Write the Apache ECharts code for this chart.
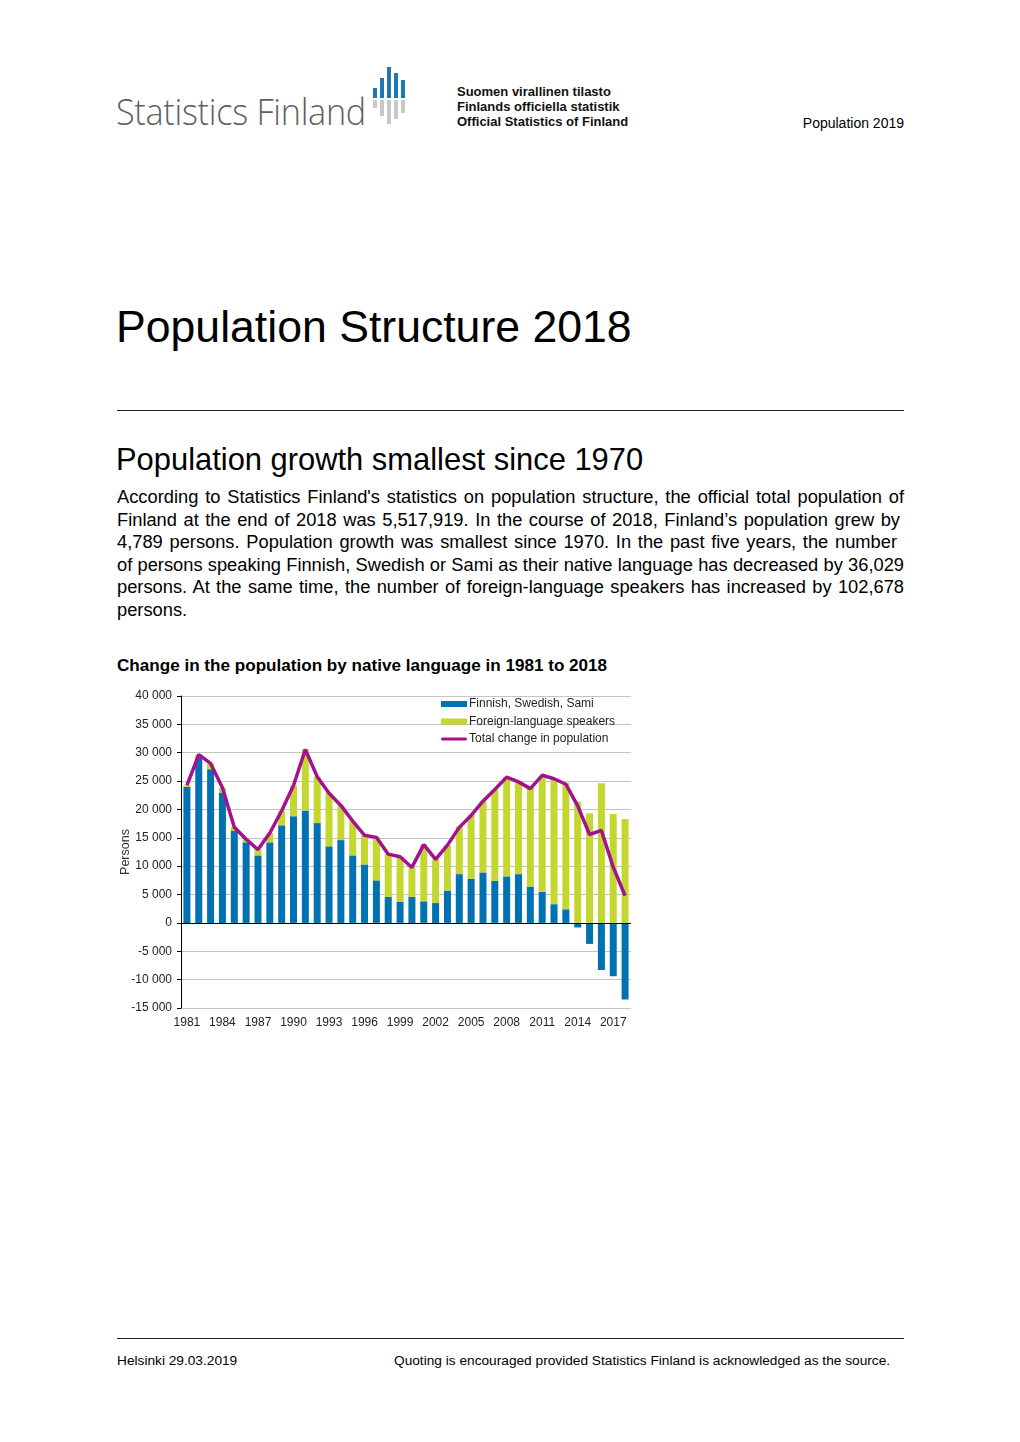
<!DOCTYPE html>
<html>
<head>
<meta charset="utf-8">
<script src="https://cdn.jsdelivr.net/npm/echarts@6/dist/echarts.min.js"></script>
<style>
  html, body { margin: 0; padding: 0; background: #fff; }
  body { width: 1020px; height: 1442px; position: relative; overflow: hidden; font-family: "Liberation Sans", Arial, sans-serif; color: #000; }
  .abs { position: absolute; white-space: nowrap; }
  .logo-text { left: 116px; top: 89px; font-family: "Open Sans", sans-serif; font-weight: 300; font-size: 36px; line-height: 46px; color: #5f5f5f; letter-spacing: -0.3px; transform: scaleX(0.95); transform-origin: 0 0; }
  .lb { position: absolute; width: 4px; }
  .blue { background: #1f78b4; }
  .grey { background: #c8c8c8; }
  .offic { left: 457px; font-family: "Liberation Sans", Arial, sans-serif; font-weight: 700; font-size: 13px; line-height: 15px; color: #111; }
  .pub { right: 116px; top: 114px; font-size: 14px; line-height: 18px; }
  .title { left: 116px; top: 300px; font-size: 44.6px; line-height: 54px; }
  .rule { position: absolute; left: 117px; width: 787px; height: 1px; background: #222; }
  .head { left: 116px; top: 440px; font-size: 30.9px; line-height: 40px; }
  .para { position: absolute; left: 117px; top: 486px; font-size: 18.3px; line-height: 22.6px; }
  .para div { white-space: nowrap; text-align: justify; text-align-last: justify; }
  .para div.last { text-align-last: left; }
  .ctitle { left: 117px; top: 656px; font-size: 17.1px; line-height: 20px; font-weight: bold; }
  .foot { top: 1352px; font-size: 13.7px; line-height: 18px; }
  #chart { position: absolute; left: 100px; top: 670px; width: 560px; height: 380px; }
</style>
</head>
<body>
<div class="abs logo-text">Statistics Finland</div>
<div class="lb blue" style="left:373px;top:88px;height:10px"></div>
<div class="lb blue" style="left:380px;top:78px;height:20px"></div>
<div class="lb blue" style="left:387px;top:67px;height:31px"></div>
<div class="lb blue" style="left:394px;top:73px;height:25px"></div>
<div class="lb blue" style="left:401px;top:80px;height:18px"></div>
<div class="lb grey" style="left:373px;top:100px;height:8px"></div>
<div class="lb grey" style="left:380px;top:100px;height:16px"></div>
<div class="lb grey" style="left:387px;top:100px;height:24px"></div>
<div class="lb grey" style="left:394px;top:100px;height:19px"></div>
<div class="lb grey" style="left:401px;top:100px;height:13px"></div>
<div class="abs offic" style="top:84px">Suomen virallinen tilasto</div>
<div class="abs offic" style="top:99px">Finlands officiella statistik</div>
<div class="abs offic" style="top:114px">Official Statistics of Finland</div>
<div class="abs pub">Population 2019</div>
<div class="abs title">Population Structure 2018</div>
<div class="rule" style="top:410px"></div>
<div class="abs head">Population growth smallest since 1970</div>
<div class="para">
  <div style="width:787px">According to Statistics Finland's statistics on population structure, the official total population of</div>
  <div style="width:783px">Finland at the end of 2018 was 5,517,919. In the course of 2018, Finland’s population grew by</div>
  <div style="width:780px">4,789 persons. Population growth was smallest since 1970. In the past five years, the number</div>
  <div style="width:787px">of persons speaking Finnish, Swedish or Sami as their native language has decreased by 36,029</div>
  <div style="width:787px">persons. At the same time, the number of foreign-language speakers has increased by 102,678</div>
  <div class="last" style="width:787px">persons.</div>
</div>
<div class="abs ctitle">Change in the population by native language in 1981 to 2018</div>
<div id="chart"></div>
<div class="rule" style="top:1338px"></div>
<div class="abs foot" style="left:117px">Helsinki 29.03.2019</div>
<div class="abs foot" style="left:394px">Quoting is encouraged provided Statistics Finland is acknowledged as the source.</div>

<script>
const years = ["1981","1982","1983","1984","1985","1986","1987","1988","1989","1990",
  "1991","1992","1993","1994","1995","1996","1997","1998","1999","2000",
  "2001","2002","2003","2004","2005","2006","2007","2008","2009","2010",
  "2011","2012","2013","2014","2015","2016","2017","2018"];
const finnishSwedishSami = [24000, 29100, 27100, 23000, 16200, 14200, 11900, 14200, 17200, 18800,
  19800, 17600, 13500, 14600, 11900, 10300, 7500, 4600, 3700, 4600,
  3800, 3500, 5700, 8600, 7800, 8900, 7400, 8200, 8600, 6400,
  5500, 3300, 2400, -800, -3700, -8300, -9400, -13500];
const foreignLanguage = [240, 550, 1000, 800, 660, 550, 1000, 1600, 2600, 5400,
  10800, 8200, 9400, 6100, 6000, 5100, 7600, 7500, 8000, 5200,
  10000, 7700, 8000, 8400, 11300, 12600, 16100, 17500, 16400, 17700,
  20300, 21900, 22300, 21400, 19300, 24600, 19200, 18300];
const totalChange = [24240, 29650, 28120, 23810, 16860, 14750, 12930, 15840, 19780, 24230,
  30570, 25780, 22870, 20710, 17950, 15440, 15080, 12120, 11660, 9780,
  13800, 11190, 13710, 16840, 18950, 21460, 23520, 25700, 24860, 23670,
  26020, 25410, 24440, 20640, 15590, 16300, 9840, 4790];
const seriesNames = ["Finnish, Swedish, Sami", "Foreign-language speakers", "Total change in population"];
const yAxisName = "Persons";

function fmt(v) {
  const s = String(Math.abs(v)).replace(/\B(?=(\d{3})+(?!\d))/g, " ");
  return (v < 0 ? "-" : "") + s;
}

const chart = echarts.init(document.getElementById("chart"), null, { renderer: "canvas" });
chart.setOption({
  animation: false,
  textStyle: { fontFamily: "Liberation Sans, Arial, sans-serif" },
  grid: { left: 81, right: 29, top: 26, bottom: 42, containLabel: false },
  legend: {
    left: 336, top: 23, orient: "vertical", itemGap: 5.5,
    itemWidth: 26, itemHeight: 6, symbolKeepAspect: true,
    textStyle: { fontSize: 12, color: "#222", padding: [0, 0, 0, -3] },
    data: [
      { name: seriesNames[0], icon: "rect" },
      { name: seriesNames[1], icon: "rect" },
      { name: seriesNames[2], icon: "path://M1.5,0H24.5A1.5,1.5,0,0,1,24.5,3H1.5A1.5,1.5,0,0,1,1.5,0Z" }
    ]
  },
  xAxis: {
    type: "category", data: years, boundaryGap: true,
    axisLine: { show: false, onZero: false },
    axisTick: { show: false },
    axisLabel: { interval: 2, fontSize: 12, color: "#222", margin: 9 }
  },
  yAxis: {
    type: "value", min: -15000, max: 40000, interval: 5000,
    name: yAxisName, nameLocation: "middle", nameGap: 49, nameRotate: 90,
    nameMoveOverlap: false,
    nameTextStyle: { fontSize: 12.5, color: "#333", padding: [0, 0, 0, 0] },
    axisLine: { show: true, lineStyle: { color: "#000", width: 1 } },
    axisTick: { show: true, length: 4, lineStyle: { color: "#000" } },
    axisLabel: { fontSize: 12, color: "#222", margin: 9, formatter: fmt },
    splitLine: { show: true, lineStyle: { color: "#c4c4c4", width: 1 } }
  },
  series: [
    {
      name: seriesNames[0], type: "bar", stack: "lang", data: finnishSwedishSami,
      barWidth: 7, itemStyle: { color: "#0072b2" },
      markLine: {
        silent: true, symbol: "none", label: { show: false },
        lineStyle: { color: "#000", width: 1, type: "solid" },
        data: [{ yAxis: 0 }]
      }
    },
    {
      name: seriesNames[1], type: "bar", stack: "lang", data: foreignLanguage,
      barWidth: 7, itemStyle: { color: "#c3d72e" }
    },
    {
      name: seriesNames[2], type: "line", data: totalChange, z: 5,
      symbol: "none", showSymbol: false,
      lineStyle: { color: "#a3118e", width: 3.5 },
      itemStyle: { color: "#a3118e" }
    }
  ]
});
</script>
</body>
</html>
